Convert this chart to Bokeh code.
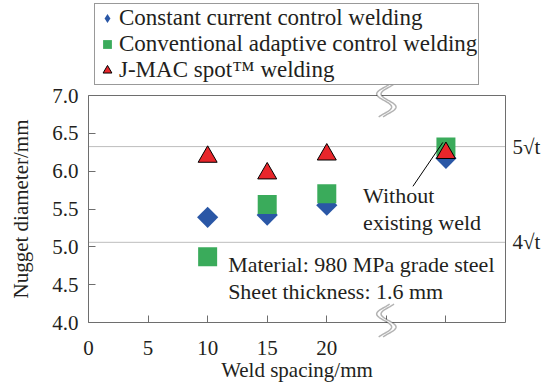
import numpy as np
from bokeh.plotting import figure
from bokeh.models import (Legend, LegendItem, Label, PolyAnnotation, FixedTicker,
                          NumeralTickFormatter, ColumnDataSource, Range1d, LinearAxis)
from bokeh.embed import file_html
from bokeh.resources import INLINE

# ---------------- data ----------------
weld_spacing = [10, 15, 20, 30]            # 30 = "without existing weld" (beyond the axis break)
constant_current = [5.39, 5.42, 5.55, 6.17]
conventional_adaptive = [4.87, 5.56, 5.70, 6.32]
jmac_spot = [6.19, 5.97, 6.22, 6.24]

series_names = ["Constant current control welding",
                "Conventional adaptive control welding",
                "J-MAC spot\u2122 welding"]
x_ticks = [0, 5, 10, 15, 20, 25, 30]
x_hidden_labels = [25, 30]
y_ticks = [4.0, 4.5, 5.0, 5.5, 6.0, 6.5, 7.0]
sheet_thickness = 1.6
nugget_factors = [5, 4]
x_break = 25
note_without = ["Without", "existing weld"]
note_material = ["Material: 980 MPa grade steel", "Sheet thickness: 1.6 mm"]

FONT = "Liberation Serif"
TXT = "#231f20"
AX = "#6e6e6e"
BLUE = "#2a57a6"
GREEN = "#3aab5b"
RED = "#e8262b"

W, H = 551, 388
X0, X1, Y0, Y1 = 0, 35, 4.0, 7.0
# plot box position in the canvas (pixels)
PL, PR, PT, PB = 88, 505, 95, 322
xpp = (X1 - X0) / (PR - PL)
ypp = (Y1 - Y0) / (PB - PT)
x_range = Range1d(X0 - PL * xpp, X1 + (W - PR) * xpp)
y_range = Range1d(Y0 - (H - PB) * ypp, Y1 + PT * ypp)

p = figure(width=W, height=H, x_range=x_range, y_range=y_range,
           output_backend="svg", toolbar_location=None,
           x_axis_location=None, y_axis_location=None)
p.min_border = 0
p.min_border_left = 0
p.min_border_right = 0
p.min_border_top = 0
p.min_border_bottom = 0
p.background_fill_color = "white"
p.border_fill_color = "white"
p.outline_line_color = None
p.xgrid.visible = False
p.ygrid.visible = False


def style_axis(ax):
    ax.major_tick_in = 7
    ax.major_tick_out = 0
    ax.minor_tick_in = 0
    ax.minor_tick_out = 0
    ax.axis_line_color = AX
    ax.major_tick_line_color = AX
    ax.major_label_text_font = FONT
    ax.major_label_text_font_size = "21px"
    ax.major_label_text_color = TXT
    ax.axis_label_text_font = FONT
    ax.axis_label_text_font_size = "21px"
    ax.axis_label_text_font_style = "normal"
    ax.axis_label_text_color = TXT


xax = LinearAxis(fixed_location=Y0, bounds=(X0, X1), ticker=FixedTicker(ticks=x_ticks),
                 axis_label="Weld spacing/mm")
style_axis(xax)
xax.major_label_overrides = {t: "" for t in x_hidden_labels}
xax.major_label_standoff = 18
xax.axis_label_standoff = 0
p.add_layout(xax, "below")

yax = LinearAxis(fixed_location=X0, bounds=(Y0, Y1), ticker=FixedTicker(ticks=y_ticks),
                 formatter=NumeralTickFormatter(format="0.0"),
                 axis_label="Nugget diameter/mm")
style_axis(yax)
yax.major_label_standoff = 10
yax.axis_label_standoff = 16
p.add_layout(yax, "left")

# top and right frame lines
tax = LinearAxis(fixed_location=Y1, bounds=(X0, X1), ticker=FixedTicker(ticks=[]),
                 major_label_text_font_size="0px")
style_axis(tax)
tax.major_tick_in = 0
p.add_layout(tax, "above")

thr_values = [f * np.sqrt(sheet_thickness) for f in nugget_factors]
rax = LinearAxis(fixed_location=X1, bounds=(Y0, Y1), ticker=FixedTicker(ticks=thr_values))
style_axis(rax)
rax.major_tick_in = 0
rax.major_label_overrides = {v: f"{f}\u221at" for f, v in zip(nugget_factors, thr_values)}
rax.major_label_standoff = 7
p.add_layout(rax, "right")

# reference lines 5*sqrt(t) and 4*sqrt(t)
for v in thr_values:
    p.line(x=[X0, X1], y=[v, v], line_color="#7a7a7a", line_dash="1 1", line_width=1)

src = ColumnDataSource(dict(x=weld_spacing, cc=constant_current,
                            ca=conventional_adaptive, jm=jmac_spot))

r_cc = p.scatter("x", "cc", source=src, marker="square", angle=np.pi / 4, size=15,
                 fill_color=BLUE, line_color=None)
r_cc_leg = p.scatter("x", "cc", source=src, marker="diamond", size=15,
                     fill_color=BLUE, line_color=None, visible=False)
r_ca = p.scatter("x", "ca", source=src, marker="square", size=19,
                 fill_color=GREEN, line_color=None)
r_jm = p.scatter("x", "jm", source=src, marker="triangle", size=19,
                 fill_color=RED, line_color="black", line_width=1)

# leader line and notes
p.segment(x0=[29.74], y0=[6.38], x1=[27.23], y1=[5.80], line_color="black", line_width=1)
for i, t in enumerate(note_without):
    p.add_layout(Label(x=23.05, y=5.68 - 0.353 * i, text=t, text_font=FONT,
                       text_font_size="22px", text_color=TXT,
                       text_baseline="middle", text_align="left"))
for i, t in enumerate(note_material):
    p.add_layout(Label(x=11.72, y=4.76 - 0.353 * i, text=t, text_font=FONT,
                       text_font_size="22px", text_color=TXT,
                       text_baseline="middle", text_align="left"))

# axis break marks (S shapes) at x_break, top and bottom
tt = np.linspace(0.08, 0.92, 40)
dy = -16.5 + 33 * (tt - 0.08) / 0.84
dx = 7.5 * np.cos(3 * np.pi * tt)
for ybase, shift in ((Y1, 5.0), (Y0, -2.0)):
    xa = x_break + (dx - 2.2) * xpp
    xb = x_break + (dx + 2.2) * xpp
    yy = ybase - (dy + shift) * ypp
    p.add_layout(PolyAnnotation(xs=list(xa) + list(xb[::-1]), ys=list(yy) + list(yy[::-1]),
                                fill_color="white", fill_alpha=1, line_color=None))
    for xs in (xa, xb):
        p.add_layout(PolyAnnotation(xs=list(xs) + list(xs[::-1]), ys=list(yy) + list(yy[::-1]),
                                    fill_color=None, line_color="black", line_width=1.5))

legend = Legend(items=[LegendItem(label=series_names[0], renderers=[r_cc_leg]),
                       LegendItem(label=series_names[1], renderers=[r_ca]),
                       LegendItem(label=series_names[2], renderers=[r_jm])],
                location=(94, 303))
legend.margin = 0
legend.padding = 1
legend.spacing = 0
legend.glyph_width = 22
legend.glyph_height = 24
legend.label_height = 24
legend.label_width = 340
legend.label_standoff = 1
legend.label_text_font = FONT
legend.label_text_font_size = "23px"
legend.label_text_line_height = 1.0
legend.label_text_color = TXT
legend.border_line_color = "#333333"
legend.border_line_width = 1
legend.background_fill_color = "white"
legend.background_fill_alpha = 1
legend.inactive_fill_alpha = 0
p.add_layout(legend)

open("out.html", "w").write(file_html(p, INLINE))
